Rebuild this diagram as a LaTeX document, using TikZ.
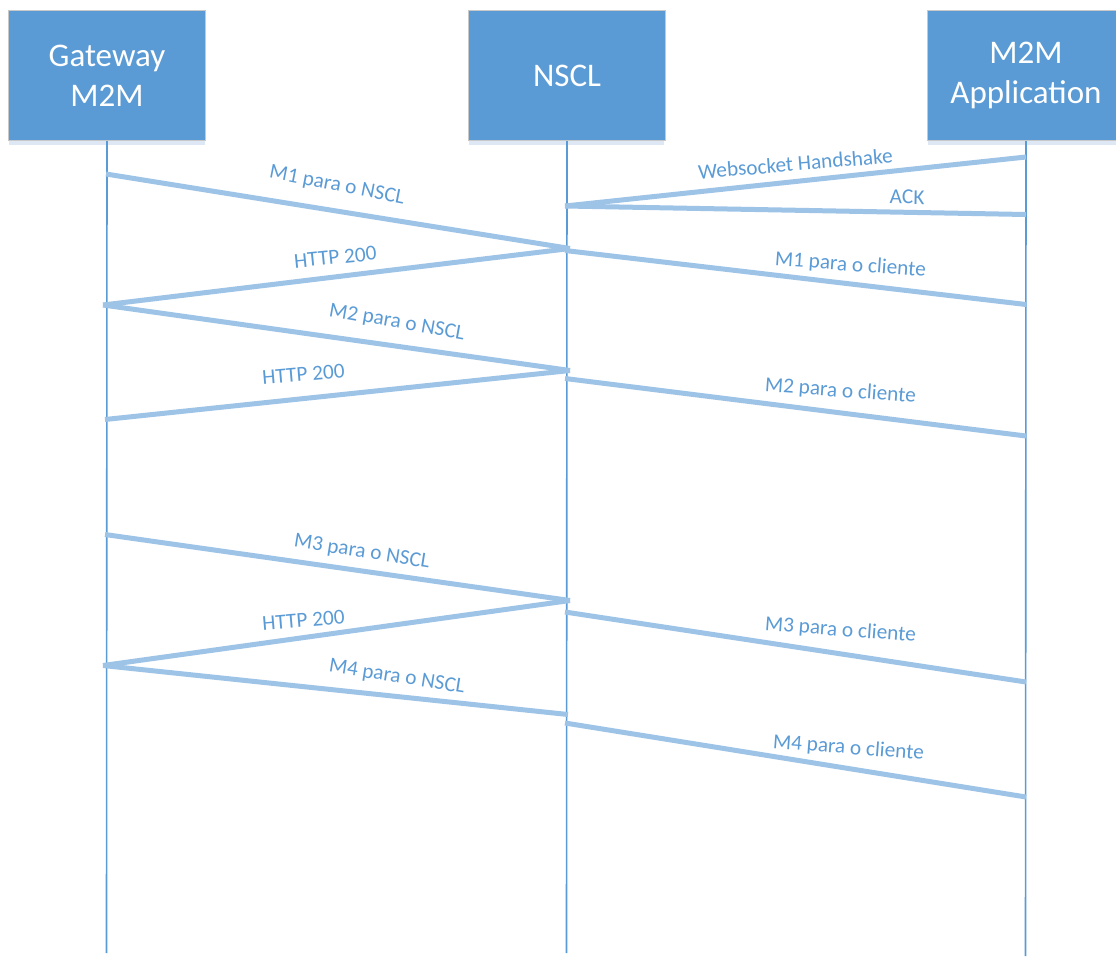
\documentclass[tikz,border=0pt]{standalone}
\usepackage{fontspec}
\setmainfont{Carlito}
\definecolor{boxblue}{HTML}{5B9BD5}
\definecolor{msgblue}{HTML}{9DC3E6}
\definecolor{shadowblue}{HTML}{DDE8F4}
\definecolor{edgegrey}{HTML}{C8C8C8}
\tikzset{
  actor/.style={fill=boxblue, draw=edgegrey, line width=1pt,
    minimum width=197pt, minimum height=130pt, inner sep=0pt,
    text=white, font=\fontsize{33}{40}\selectfont, align=center,
    anchor=north west},
  boxshadow/.style={fill=shadowblue},
  lifeline/.style={draw=boxblue, line width=1.6pt},
  msg/.style={draw=msgblue, line width=5pt, line cap=butt},
  lbl/.style={text=boxblue, font=\fontsize{21.3}{24}\selectfont,
    inner sep=0pt, anchor=base}
}
\begin{document}
\begin{tikzpicture}[x=1pt,y=-1pt]
\useasboundingbox (0,0) rectangle (1116,956);

% soft shadows under the participant boxes
\fill[boxshadow] (9,140) rectangle (205,145);
\fill[boxshadow] (469,140) rectangle (664,145);
\fill[boxshadow] (928,140) rectangle (1124,145);

% participants
\node[actor] (gw)   at (8,10)   {Gateway\\M2M};
\node[actor] (nscl) at (468,10) {NSCL};
\node[actor] (app)  at (927,10) {M2M\\Application};

% lifeline ends
\coordinate (gwEnd)   at (106.5,953);
\coordinate (nsclEnd) at (566.5,953);
\coordinate (appEnd)  at (1025.5,956);

\draw[lifeline] (gw.south)   -- (gwEnd);
\draw[lifeline] (nscl.south) -- (nsclEnd);
\draw[lifeline] (app.south)  -- (appEnd);

% message end points on the lifelines
\coordinate (a1) at (1026,157);
\coordinate (n1) at (565,206);
\coordinate (a2) at (1026,214.5);
\coordinate (g1) at (106,174);
\coordinate (n2) at (570,248.5);
\coordinate (g2) at (103,305);
\coordinate (n3) at (565,250.5);
\coordinate (a3) at (1026,304.5);
\coordinate (n4) at (570,370.5);
\coordinate (g3) at (105,419.5);
\coordinate (n5) at (565,378.5);
\coordinate (a4) at (1026,436);
\coordinate (g4) at (105,534.5);
\coordinate (n6) at (570,600.5);
\coordinate (g5) at (103,665.5);
\coordinate (n7) at (565,612);
\coordinate (a5) at (1026,682);
\coordinate (n8) at (568,714.5);
\coordinate (n9) at (565,723);
\coordinate (a6) at (1026,797);

% messages
\draw[msg] (n1) -- (a1);
\draw[msg] (n1) -- (a2);
\draw[msg] (g1) -- (n2);
\draw[msg] (g2) -- (n2);
\draw[msg] (n3) -- (a3);
\draw[msg] (g2) -- (n4);
\draw[msg] (g3) -- (n4);
\draw[msg] (n5) -- (a4);
\draw[msg] (g4) -- (n6);
\draw[msg] (g5) -- (n6);
\draw[msg] (n7) -- (a5);
\draw[msg] (g5) -- (n8);
\draw[msg] (n9) -- (a6);

% message labels
\node[lbl, rotate=4.8]  (l1)  at (796,171)   {Websocket Handshake};
\node[lbl, rotate=-1]   (l2)  at (907,204)   {ACK};
\node[lbl, rotate=-11]  (l3)  at (336,191)   {M1 para o NSCL};
\node[lbl, rotate=5.8]  (l4)  at (336,264)   {HTTP 200};
\node[lbl, rotate=-4.2] (l5)  at (850,271)   {M1 para o cliente};
\node[lbl, rotate=-10]  (l6)  at (396,328)   {M2 para o NSCL};
\node[lbl, rotate=4.8]  (l7)  at (304,381)   {HTTP 200};
\node[lbl, rotate=-4.2] (l8)  at (840,397)   {M2 para o cliente};
\node[lbl, rotate=-9]   (l9)  at (361,557.5) {M3 para o NSCL};
\node[lbl, rotate=4.8]  (l10) at (304,627)   {HTTP 200};
\node[lbl, rotate=-4.3] (l11) at (840,636)   {M3 para o cliente};
\node[lbl, rotate=-9]   (l12) at (396,682.5) {M4 para o NSCL};
\node[lbl, rotate=-4.4] (l13) at (848,754)   {M4 para o cliente};
\end{tikzpicture}
\end{document}
